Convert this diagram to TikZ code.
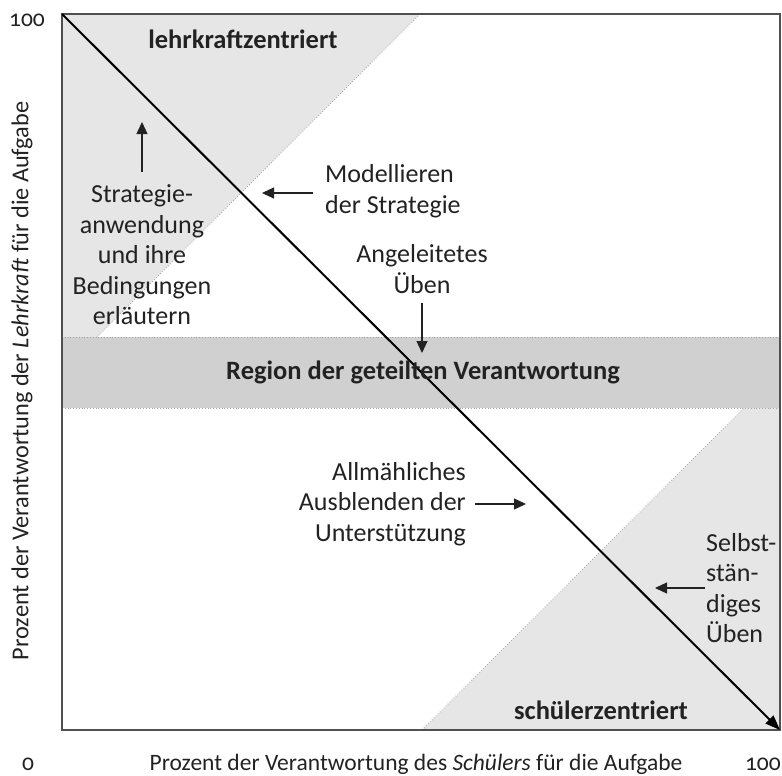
\documentclass[tikz,border=0pt]{standalone}
\usepackage{fontspec}
\setmainfont{Carlito}
\usetikzlibrary{arrows.meta}
\definecolor{lightfill}{HTML}{E6E6E6}
\definecolor{bandfill}{HTML}{D0D0D0}
\definecolor{framecol}{HTML}{505050}
\definecolor{txt}{HTML}{222222}
\tikzset{
  lbl/.style={inner sep=0pt, text=txt, font=\fontsize{26}{30.5}\selectfont},
  boldlbl/.style={lbl, font=\fontsize{26.5}{30.5}\selectfont\bfseries},
  axislbl/.style={inner sep=0pt, text=txt, font=\fontsize{23.5}{28}\selectfont},
  ptr/.style={-{Triangle[length=12pt,width=11pt]}, line width=1.2pt, draw=txt},
  hyp/.style={draw=gray!70, dotted, line width=0.8pt},
}
\begin{document}
\begin{tikzpicture}[x=1pt,y=-1pt]
\useasboundingbox (0,0) rectangle (782,776);
% light triangles
\fill[lightfill] (62,14) -- (420,14) -- (62,372) -- cycle;
\fill[lightfill] (422,730) -- (780,730) -- (780,372) -- cycle;
\draw[hyp] (420,14) -- (62,372);
\draw[hyp] (422,730) -- (780,372);
% shared band
\fill[bandfill] (62,337) rectangle (780,408);
\draw[hyp] (62,337) -- (780,337);
\draw[hyp] (62,408) -- (780,408);
% frame
\draw[framecol, line width=1.5pt] (62,14) rectangle (780,730);
% main diagonal
\coordinate (dstart) at (62,14);
\coordinate (dend) at (780,730);
\draw[line width=2pt, -{Triangle[length=15pt,width=11pt]}] (dstart) -- (dend);
% axis numbers
\node[axislbl] (n100a) at (27,20) {\addfontfeatures{Numbers=OldStyle}100};
\node[axislbl] (n0) at (28,764) {\addfontfeatures{Numbers=OldStyle}0};
\node[axislbl, anchor=east] (n100b) at (781,764) {\addfontfeatures{Numbers=OldStyle}100};
% axis labels
\node[axislbl] (xlab) at (416,764) {Prozent der Verantwortung des \textit{Schülers} für die Aufgabe};
\node[axislbl, rotate=90, font=\fontsize{24.3}{28}\selectfont] (ylab) at (22,381) {Prozent der Verantwortung der \textit{Lehrkraft} für die Aufgabe};
% region labels
\node[boldlbl] (lz) at (243,39) {lehrkraftzentriert};
\node[boldlbl] (sz) at (601,710) {schülerzentriert};
\node[boldlbl] (reg) at (423,372) {Region der geteilten Verantwortung};
% Strategieanwendung
\node[lbl, align=center] (strat) at (142,255) {Strategie-\\anwendung\\und ihre\\Bedingungen\\erläutern};
\coordinate (sa1) at (142,172);
\coordinate (sa2) at (142,122);
\draw[ptr] (sa1) -- (sa2);
% Modellieren
\node[lbl, align=left, anchor=west] (mod) at (325,191) {Modellieren\\der Strategie};
\coordinate (mo1) at (313,193);
\coordinate (mo2) at (262,193);
\draw[ptr] (mo1) -- (mo2);
% Angeleitetes Üben
\node[lbl, align=center] (ang) at (422,269) {Angeleitetes\\Üben};
\coordinate (an1) at (422,303);
\coordinate (an2) at (422,353);
\draw[ptr] (an1) -- (an2);
% Allmähliches Ausblenden
\node[lbl, align=right, anchor=east] (allm) at (466,504) {Allmähliches\\Ausblenden der\\Unterstützung};
\coordinate (al1) at (475,504);
\coordinate (al2) at (526,504);
\draw[ptr] (al1) -- (al2);
% Selbstständiges Üben
\node[lbl, align=left, anchor=west] (selb) at (706,588) {Selbst-\\stän-\\diges\\Üben};
\coordinate (se1) at (705,588);
\coordinate (se2) at (655,588);
\draw[ptr] (se1) -- (se2);
\end{tikzpicture}
\end{document}
